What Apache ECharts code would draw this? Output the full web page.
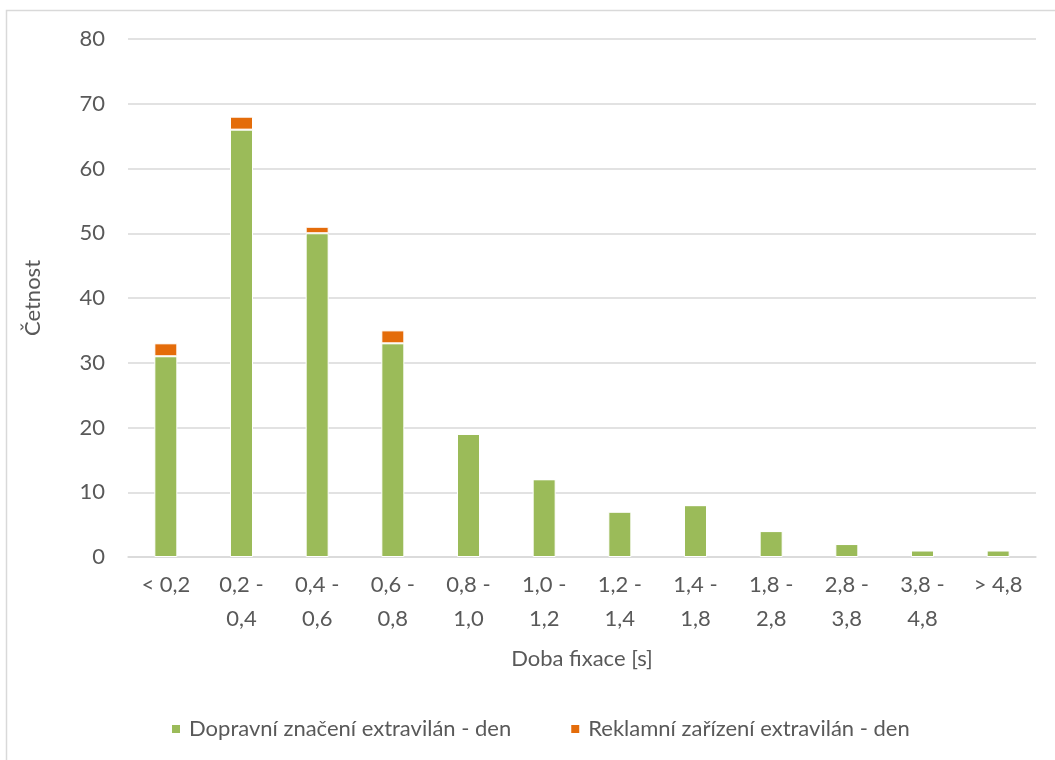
<!DOCTYPE html>
<html>
<head>
<meta charset="utf-8">
<script src="https://cdn.jsdelivr.net/npm/echarts@6/dist/echarts.min.js"></script>
<style>
  html, body { margin: 0; padding: 0; background: #fff; }
  #chart { width: 1055px; height: 760px; }
</style>
</head>
<body>
<div id="chart"></div>
<script>
// Fixation duration bins (seconds)
const categories = ['< 0,2', '0,2 -\n0,4', '0,4 -\n0,6', '0,6 -\n0,8', '0,8 -\n1,0', '1,0 -\n1,2',
  '1,2 -\n1,4', '1,4 -\n1,8', '1,8 -\n2,8', '2,8 -\n3,8', '3,8 -\n4,8', '> 4,8'];
// Counts per bin
const trafficSigns = [31, 66, 50, 33, 19, 12, 7, 8, 4, 2, 1, 1];
const billboards   = [2, 2, 1, 2, 0, 0, 0, 0, 0, 0, 0, 0];
const seriesNames = ['Dopravní značení extravilán - den', 'Reklamní zařízení extravilán - den'];
const yTicks = { min: 0, max: 80, interval: 10 };

const FONT = 'Lato, "Open Sans", sans-serif';
const TEXT = '#595959';
const GRID = '#D9D9D9';
const FS = 22;

const chart = echarts.init(document.getElementById('chart'), null, { renderer: 'canvas' });
chart.setOption({
  backgroundColor: '#fff',
  animation: false,
  textStyle: { fontFamily: FONT, color: TEXT },
  graphic: [{
    type: 'polyline',
    shape: { points: [[6.5, 760], [6.5, 10.5], [1055, 10.5]] },
    style: { stroke: '#D9D9D9', lineWidth: 1.5, fill: null },
    silent: true
  }],
  grid: { left: 128, right: 19, top: 39, bottom: 203, containLabel: false },
  legend: {
    bottom: 15,
    left: 165,
    itemWidth: 10,
    itemHeight: 10,
    itemGap: 58,
    icon: 'rect',
    textStyle: { fontFamily: FONT, fontSize: FS, color: TEXT, padding: [0, 0, 0, 3] },
    data: seriesNames
  },
  xAxis: {
    type: 'category',
    data: categories,
    name: 'Doba fixace [s]',
    nameLocation: 'middle',
    nameGap: 91,
    nameTextStyle: { fontFamily: FONT, fontSize: FS, color: TEXT },
    axisLine: { lineStyle: { color: GRID, width: 1.5 } },
    axisTick: { show: false },
    axisLabel: { fontFamily: FONT, fontSize: FS, color: TEXT, margin: 11, lineHeight: 34, interval: 0 }
  },
  yAxis: {
    type: 'value',
    min: yTicks.min, max: yTicks.max, interval: yTicks.interval,
    name: 'Četnost',
    nameLocation: 'middle',
    nameRotate: 90,
    nameGap: 84,
    nameTextStyle: { fontFamily: FONT, fontSize: FS, color: TEXT },
    axisLine: { show: false },
    axisTick: { show: false },
    splitLine: { lineStyle: { color: GRID, width: 1.5 } },
    axisLabel: { fontFamily: FONT, fontSize: FS, color: TEXT, margin: 23 }
  },
  series: [
    {
      name: seriesNames[0], type: 'bar', stack: 'total', barWidth: 23,
      data: trafficSigns,
      itemStyle: { color: '#9BBB59', borderColor: '#fff', borderWidth: 1 }
    },
    {
      name: seriesNames[1], type: 'bar', stack: 'total', barWidth: 23,
      data: billboards,
      itemStyle: { color: '#E46C0A', borderColor: '#fff', borderWidth: 1 }
    }
  ]
});
</script>
</body>
</html>
